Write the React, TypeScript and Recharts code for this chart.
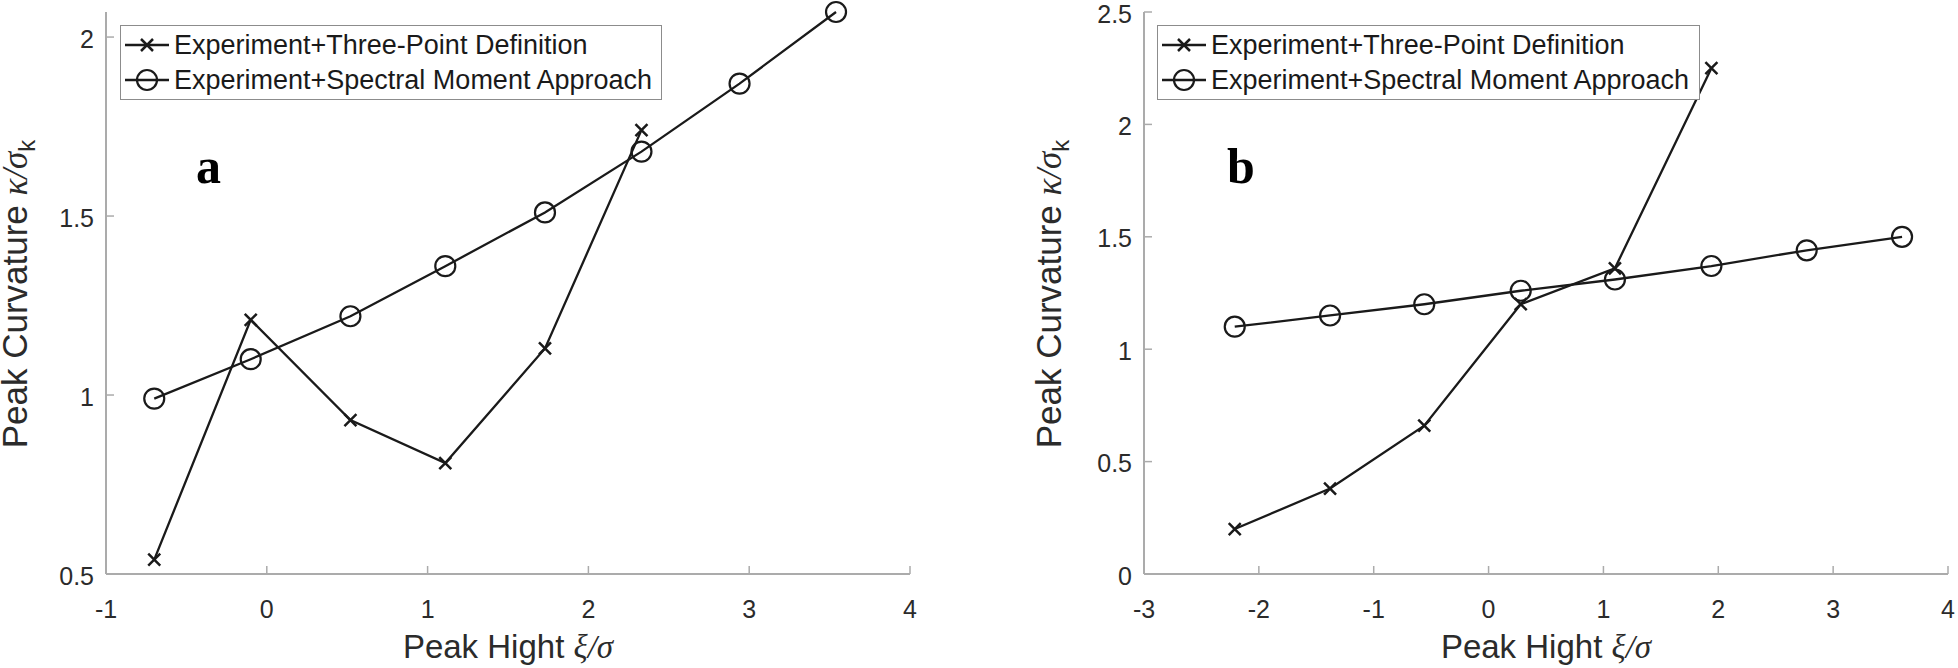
import React from "react";
import { LineChart, Line, XAxis, YAxis, Legend } from "recharts";

// panel a: peak height xi/sigma and normalised peak curvature
const aXi = [-0.7, -0.1, 0.52, 1.11, 1.73, 2.33, 2.94, 3.54];
const aThreePoint = [0.54, 1.21, 0.93, 0.81, 1.13, 1.74, null, null];
const aSpectral = [0.99, 1.1, 1.22, 1.36, 1.51, 1.68, 1.87, 2.07];
const aXTicks = [-1, 0, 1, 2, 3, 4];
const aYTicks = [0.5, 1, 1.5, 2];

// panel b
const bXi = [-2.21, -1.38, -0.56, 0.28, 1.1, 1.94, 2.77, 3.6];
const bThreePoint = [0.2, 0.38, 0.66, 1.2, 1.36, 2.25, null, null];
const bSpectral = [1.1, 1.15, 1.2, 1.26, 1.31, 1.37, 1.44, 1.5];
const bXTicks = [-3, -2, -1, 0, 1, 2, 3, 4];
const bYTicks = [0, 0.5, 1, 1.5, 2, 2.5];

const seriesNames = ["Experiment+Three-Point Definition", "Experiment+Spectral Moment Approach"];

const aRows = aXi.map((x, i) => ({ x, three: aThreePoint[i], spectral: aSpectral[i] }));
const bRows = bXi.map((x, i) => ({ x, three: bThreePoint[i], spectral: bSpectral[i] }));

const FONT = '"Liberation Sans", Arial, sans-serif';
const AXIS = "#ababab";
const INK = "#1a1a1a";
const TEXT = "#2b2b2b";
const TICK = 8;
const GAP = 12;
const TICK_FONT = 25;

const Cross = ({ cx, cy }: any) => {
  if (cx == null || cy == null) return <g />;
  const s = 6;
  return (
    <path
      d={`M${cx - s},${cy - s}L${cx + s},${cy + s}M${cx - s},${cy + s}L${cx + s},${cy - s}`}
      stroke={INK}
      strokeWidth={2.5}
      fill="none"
    />
  );
};

const Ring = ({ cx, cy }: any) => {
  if (cx == null || cy == null) return <g />;
  return <circle cx={cx} cy={cy} r={10} stroke={INK} strokeWidth={2.2} fill="none" />;
};

// bottom labels sit a little lower than the tick gap, as in the original
const BottomTick = ({ x, y, payload }: any) => (
  <g>
    <line x1={x} x2={x} y1={y - GAP} y2={y - GAP - TICK} stroke={AXIS} strokeWidth={1.5} />
    <text x={x} y={y + 32} textAnchor="middle" fill={TEXT} fontSize={TICK_FONT} fontFamily={FONT}>
      {payload.value}
    </text>
  </g>
);

const LeftTick = ({ x, y, payload }: any) => (
  <g>
    <line x1={x + GAP} x2={x + GAP + TICK} y1={y} y2={y} stroke={AXIS} strokeWidth={1.5} />
    <text x={x} y={y} dy="0.42em" textAnchor="end" fill={TEXT} fontSize={TICK_FONT} fontFamily={FONT}>
      {payload.value}
    </text>
  </g>
);

const TopTick = ({ x, y }: any) => (
  <line x1={x} x2={x} y1={y} y2={y + TICK} stroke={AXIS} strokeWidth={1.5} />
);

const RightTick = ({ x, y }: any) => (
  <line x1={x} x2={x - TICK} y1={y} y2={y} stroke={AXIS} strokeWidth={1.5} />
);

const LegendBox = ({ width }: { width: number }) => (
  <div
    style={{
      width,
      height: 75,
      boxSizing: "border-box",
      border: "1.5px solid #8c8c8c",
      background: "#fff",
      position: "relative",
      fontFamily: FONT,
      fontSize: 27,
      color: INK,
      textAlign: "left",
    }}
  >
    {seriesNames.map((name, i) => (
      <div
        key={name}
        style={{ position: "absolute", left: 2, top: 2 + i * 35, height: 34, display: "flex", alignItems: "center", whiteSpace: "nowrap" }}
      >
        <svg width={48} height={30} style={{ flex: "none" }}>
          <line x1={2} x2={46} y1={15} y2={15} stroke={INK} strokeWidth={2.5} />
          {i === 0 ? <Cross cx={24} cy={15} /> : <Ring cx={24} cy={15} />}
        </svg>
        <span style={{ marginLeft: 3, lineHeight: "34px" }}>{name}</span>
      </div>
    ))}
  </div>
);

type PanelProps = {
  rows: any[];
  xDomain: [number, number];
  yDomain: [number, number];
  xTicks: number[];
  yTicks: number[];
  width: number;
  marginLeft: number;
  marginRight: number;
  legendLeft: number;
  legendWidth: number;
};

const Panel = ({ rows, xDomain, yDomain, xTicks, yTicks, width, marginLeft, marginRight, legendLeft, legendWidth }: PanelProps) => (
  <LineChart width={width} height={668} data={rows} margin={{ top: 12, right: marginRight, bottom: 54, left: marginLeft }}>
    <XAxis
      dataKey="x"
      type="number"
      domain={xDomain}
      ticks={xTicks}
      height={40}
      tickSize={0}
      tickMargin={GAP}
      tick={<BottomTick />}
      tickLine={false}
      axisLine={{ stroke: AXIS, strokeWidth: 2 }}
      interval={0}
    />
    <XAxis
      xAxisId="top"
      orientation="top"
      dataKey="x"
      type="number"
      domain={xDomain}
      ticks={xTicks}
      height={0}
      tickSize={0}
      tickMargin={0}
      tick={<TopTick />}
      tickLine={false}
      axisLine={{ stroke: AXIS, strokeWidth: 2 }}
      interval={0}
    />
    <YAxis
      type="number"
      domain={yDomain}
      ticks={yTicks}
      width={60}
      tickSize={0}
      tickMargin={GAP}
      tick={<LeftTick />}
      tickLine={false}
      axisLine={{ stroke: AXIS, strokeWidth: 2 }}
      interval={0}
    />
    <YAxis
      yAxisId="right"
      orientation="right"
      type="number"
      domain={yDomain}
      ticks={yTicks}
      width={0}
      tickSize={0}
      tickMargin={0}
      tick={<RightTick />}
      tickLine={false}
      axisLine={{ stroke: AXIS, strokeWidth: 2 }}
      interval={0}
    />
    <Legend
      layout="horizontal"
      verticalAlign="middle"
      align="center"
      wrapperStyle={{ left: legendLeft, top: 25, width: legendWidth, height: 75 }}
      content={() => <LegendBox width={legendWidth} />}
    />
    <Line
      dataKey="three"
      stroke={INK}
      strokeWidth={2.3}
      dot={(p: any) => <Cross key={`c${p.index}`} cx={p.cx} cy={p.cy} />}
      activeDot={false}
      isAnimationActive={false}
      legendType="none"
    />
    <Line
      dataKey="spectral"
      stroke={INK}
      strokeWidth={2.3}
      dot={(p: any) => <Ring key={`r${p.index}`} cx={p.cx} cy={p.cy} />}
      activeDot={false}
      isAnimationActive={false}
      legendType="none"
    />
  </LineChart>
);

const titleStyle: React.CSSProperties = {
  position: "absolute",
  fontFamily: FONT,
  lineHeight: "38px",
  color: TEXT,
  textAlign: "center",
  whiteSpace: "nowrap",
};

const XTitle = ({ left, width }: { left: number; width: number }) => (
  <div style={{ ...titleStyle, fontSize: 33, left, width, top: 628 }}>
    Peak Hight <i style={{ fontFamily: '"Liberation Serif", serif' }}>ξ/σ</i>
  </div>
);

const YTitle = ({ cx }: { cx: number }) => (
  <div
    style={{
      ...titleStyle,
      fontSize: 35,
      left: cx - 300,
      width: 600,
      top: 288 - 19,
      transform: "rotate(-90deg)",
    }}
  >
    Peak Curvature <i style={{ fontFamily: '"Liberation Serif", serif' }}>κ/σ</i>
    <sub style={{ fontSize: 24 }}>k</sub>
  </div>
);

const PanelLetter = ({ left, text }: { left: number; text: string }) => (
  <div
    style={{
      position: "absolute",
      left,
      top: 141,
      fontFamily: '"Liberation Serif", "Times New Roman", serif',
      fontWeight: "bold",
      fontSize: 50,
      lineHeight: "50px",
      color: "#000",
    }}
  >
    {text}
  </div>
);

export default function App() {
  return (
    <div style={{ position: "absolute", left: 0, top: 0, width: 1958, height: 668, background: "#fff" }}>
      <div style={{ position: "absolute", left: 0, top: 0 }}>
        <Panel
          rows={aRows}
          xDomain={[-1, 4]}
          yDomain={[0.5, 2.07]}
          xTicks={aXTicks}
          yTicks={aYTicks}
          width={980}
          marginLeft={46}
          marginRight={70}
          legendLeft={120}
          legendWidth={542}
        />
      </div>
      <div style={{ position: "absolute", left: 980, top: 0 }}>
        <Panel
          rows={bRows}
          xDomain={[-3, 4]}
          yDomain={[0, 2.5]}
          xTicks={bXTicks}
          yTicks={bYTicks}
          width={978}
          marginLeft={104}
          marginRight={10}
          legendLeft={177}
          legendWidth={543}
        />
      </div>
      <XTitle left={106} width={804} />
      <XTitle left={1144} width={804} />
      <YTitle cx={21} />
      <YTitle cx={1055} />
      <PanelLetter left={196} text="a" />
      <PanelLetter left={1227} text="b" />
    </div>
  );
}
